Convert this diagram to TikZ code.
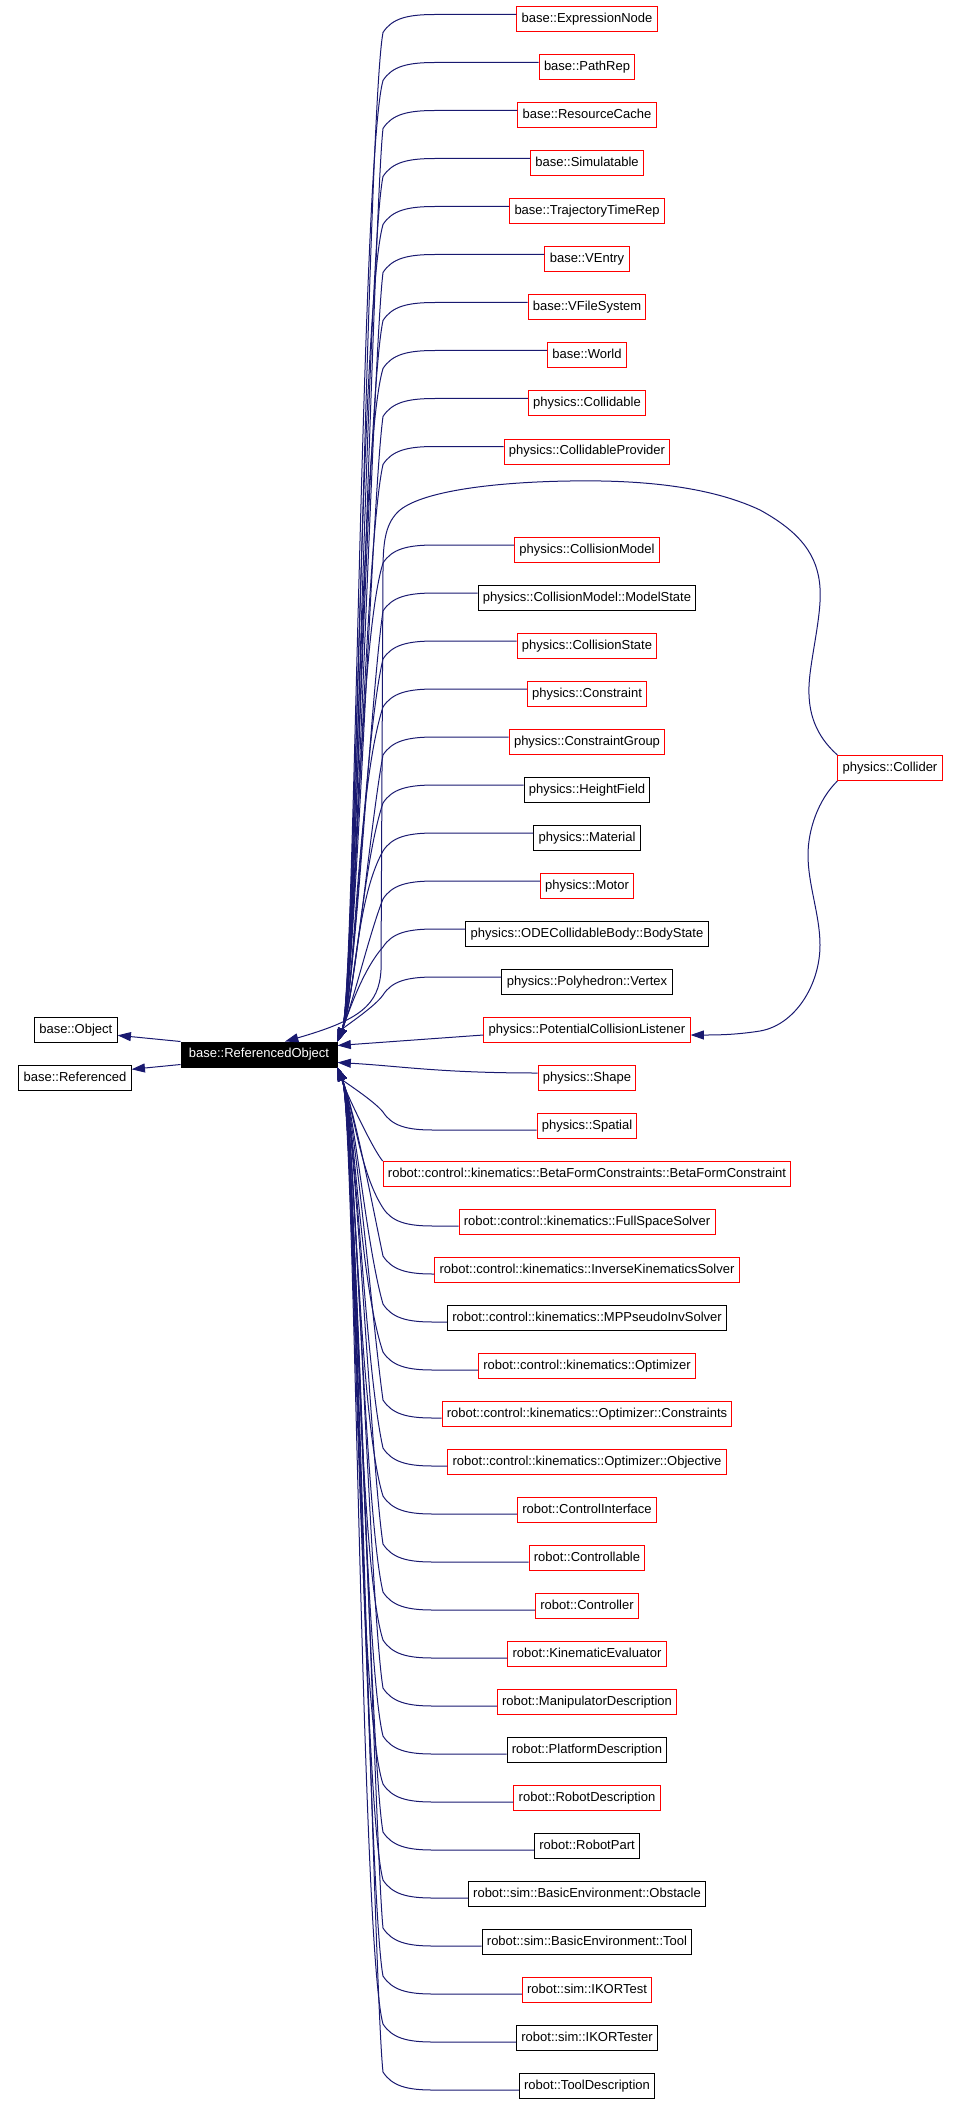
\documentclass[tikz,border=0pt]{standalone}
\usepackage{fontspec}
\setmainfont{Liberation Sans}
\usetikzlibrary{arrows.meta,calc}
\definecolor{edgeblue}{HTML}{191970}
\definecolor{boxred}{HTML}{FF0000}
\tikzset{
  cls/.style={draw, line width=0.75pt, minimum height=18.75pt, inner xsep=3.6pt, inner ysep=0pt,
    text height=7pt, text depth=2pt, font=\fontsize{9.75pt}{11.7pt}\selectfont, anchor=center},
  edge/.style={draw=edgeblue, line width=0.75pt, -{Triangle[length=10pt,width=6.75pt]}},
}
\begin{document}
\begin{tikzpicture}[x=0.75pt,y=-0.75pt]
\useasboundingbox (0,0) rectangle (960,2104);
% base classes
\node[cls, draw=black, fill=black, text=white, minimum width=117pt] (ro) at (259,1054.5) {base::ReferencedObject};
\node[cls, draw=black] (obj) at (75.8,1030.3) {base::Object};
\node[cls, draw=black] (ref) at (75,1078.3) {base::Referenced};
\draw[edge] (ro.north west) -- ($(obj.east)+(0,5)$);
\draw[edge] ($(ro.west)+(0,10)$) -- ($(ref.east)+(0,-9)$);
% derived classes
\foreach \i/\yy/\col/\lab in {
1/19.5/boxred/base::ExpressionNode,
2/67.5/boxred/base::PathRep,
3/115.5/boxred/base::ResourceCache,
4/163.5/boxred/base::Simulatable,
5/211.5/boxred/base::TrajectoryTimeRep,
6/259.5/boxred/base::VEntry,
7/307.5/boxred/base::VFileSystem,
8/355.5/boxred/base::World,
9/403.5/boxred/physics::Collidable,
10/451.5/boxred/physics::CollidableProvider,
11/550/boxred/physics::CollisionModel,
12/598/black/physics::CollisionModel::ModelState,
13/646/boxred/physics::CollisionState,
14/694/boxred/physics::Constraint,
15/742/boxred/physics::ConstraintGroup,
16/790/black/physics::HeightField,
17/838/black/physics::Material,
18/886/boxred/physics::Motor,
19/934/black/physics::ODECollidableBody::BodyState,
20/982/black/physics::Polyhedron::Vertex,
21/1030/boxred/physics::PotentialCollisionListener,
22/1078/boxred/physics::Shape,
23/1126/boxred/physics::Spatial,
24/1174/boxred/robot::control::kinematics::BetaFormConstraints::BetaFormConstraint,
25/1222/boxred/robot::control::kinematics::FullSpaceSolver,
26/1270/boxred/robot::control::kinematics::InverseKinematicsSolver,
27/1318/black/robot::control::kinematics::MPPseudoInvSolver,
28/1366/boxred/robot::control::kinematics::Optimizer,
29/1414/boxred/robot::control::kinematics::Optimizer::Constraints,
30/1462/boxred/robot::control::kinematics::Optimizer::Objective,
31/1510/boxred/robot::ControlInterface,
32/1558/boxred/robot::Controllable,
33/1606/boxred/robot::Controller,
34/1654/boxred/robot::KinematicEvaluator,
35/1702/boxred/robot::ManipulatorDescription,
36/1750/black/robot::PlatformDescription,
37/1798/boxred/robot::RobotDescription,
38/1846/black/robot::RobotPart,
39/1894/black/robot::sim::BasicEnvironment::Obstacle,
40/1942/black/robot::sim::BasicEnvironment::Tool,
41/1990/boxred/robot::sim::IKORTest,
42/2038/black/robot::sim::IKORTester,
43/2086/black/robot::ToolDescription}{
  \node[cls, draw=\col] (n\i) at (587,\yy) {\lab};
}
\node[cls, draw=boxred] (col) at (890,768) {physics::Collider};
% edges from classes above
\foreach \i/\yy in {1/19.5,2/67.5,3/115.5,4/163.5,5/211.5,6/259.5,7/307.5,8/355.5,9/403.5,10/451.5,
  11/550,12/598,13/646,14/694,15/742,16/790,17/838,18/886,19/934,20/982}{
  \pgfmathsetmacro\yp{\yy-5}
  \pgfmathsetmacro\ya{\yp+4}
  \pgfmathsetmacro\dd{\yp+18}
  \pgfmathsetmacro\hh{1042-\dd}
  \pgfmathsetmacro\ey{\dd+min(0.25*\hh,80)}
  \pgfmathsetmacro\ex{383-min(0.3*\hh,8+mod(\i*7,20))}
  \pgfmathsetmacro\mm{min(0.3*\hh,45)}
  \pgfmathsetmacro\fx{337+0.4*\mm}
  \pgfmathsetmacro\fy{1042-\mm}
  \draw[edge] ($(n\i.west)+(0,-5)$) -- (435,\yp) .. controls (407,\yp) and (392,\ya) .. (383,\dd)
     .. controls (\ex,\ey) and (\fx,\fy) .. (ro.north east);
}
% edges from classes below
\foreach \i/\yy in {23/1126,25/1222,26/1270,27/1318,28/1366,29/1414,30/1462,31/1510,32/1558,
  33/1606,34/1654,35/1702,36/1750,37/1798,38/1846,39/1894,40/1942,41/1990,42/2038,43/2086}{
  \pgfmathsetmacro\yp{\yy+4}
  \pgfmathsetmacro\ya{\yp-4}
  \pgfmathsetmacro\dd{\yp-18}
  \pgfmathsetmacro\hh{\dd-1067}
  \pgfmathsetmacro\ey{\dd-min(0.25*\hh,80)}
  \pgfmathsetmacro\ex{383-min(0.3*\hh,8+mod(\i*7,20))}
  \pgfmathsetmacro\mm{min(0.3*\hh,45)}
  \pgfmathsetmacro\fx{337+0.4*\mm}
  \pgfmathsetmacro\fy{1067+\mm}
  \draw[edge] ($(n\i.west)+(0,4)$) -- (433,\yp) .. controls (407,\yp) and (392,\ya) .. (383,\dd)
     .. controls (\ex,\ey) and (\fx,\fy) .. (ro.south east);
}
% special edges
\draw[edge] ($(n21.west)+(0,5)$) -- ($(ro.east)+(0,-9)$);
\draw[edge] ($(n22.west)+(0,-5)$) .. controls (440,1073) and (400,1066) .. ($(ro.east)+(0,8)$);
\draw[edge] (n24.north west) .. controls (372,1148) and (345,1090) .. (ro.south east);
% Collider edges
\draw[edge] (col.north west) .. controls (815,735) and (808,712) .. (809,686)
  .. controls (810,660) and (822,615) .. (820,588)
  .. controls (818,555) and (800,532) .. (760,510)
  .. controls (705,484) and (630,480) .. (570,481)
  .. controls (500,482) and (425,490) .. (400,510)
  .. controls (386,522) and (383,540) .. (383,570)
  -- (381,970)
  .. controls (379,1005) and (360,1020) .. ($(ro.north)+(26,0)$);
\draw[edge] (col.south west) .. controls (818,800) and (808,830) .. (808,855)
  .. controls (808,885) and (820,915) .. (820,945)
  .. controls (820,985) and (795,1025) .. (760,1031)
  .. controls (735,1035) and (715,1035) .. ($(n21.east)+(0,5)$);
\end{tikzpicture}
\end{document}
